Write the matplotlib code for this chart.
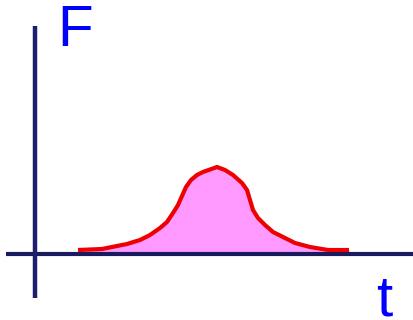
import matplotlib.pyplot as plt

t_vals = [43, 67, 92, 105, 115, 125, 132, 138, 143, 147, 151, 156, 162, 168,
          182, 190, 198, 207, 212, 215, 218, 223, 230, 238, 250, 260, 275, 293, 314]
F_vals = [4, 5, 10, 14, 19, 26, 32, 41, 49, 58, 67, 74, 79, 82,
          87, 84, 79, 71, 64, 54, 44, 36, 29, 22, 16, 11, 7, 4, 4]

# Axis labels
y_label = 'F'
x_label = 't'

fig = plt.figure(figsize=(4.14, 3.2), dpi=100)
ax = fig.add_axes([0, 0, 1, 1])
ax.set_xlim(-35, 379)
ax.set_ylim(-66, 254)
ax.axis('off')

# Shaded area under the curve
ax.fill_between(t_vals, F_vals, 0, color='#ff99ff', linewidth=0, zorder=1)

# Axes drawn as plain lines
ax.plot([-29, 379], [0, 0], color='#1a1a5e', linewidth=3.0, zorder=2, solid_capstyle='butt')
ax.plot([0, 0], [-44, 228], color='#1e1e6e', linewidth=3.2, zorder=2, solid_capstyle='butt')

# The curve itself
ax.plot(t_vals, F_vals, color='#ee0000', linewidth=3.0, zorder=3,
        solid_joinstyle='round', solid_capstyle='butt')

ax.text(22, 208, y_label, color='#0000ff', fontsize=42, family='Liberation Sans',
        ha='left', va='baseline')
ax.text(341, -61, x_label, color='#0000ff', fontsize=42, family='Liberation Sans',
        ha='left', va='baseline')

fig.savefig('out.png', dpi=100)
